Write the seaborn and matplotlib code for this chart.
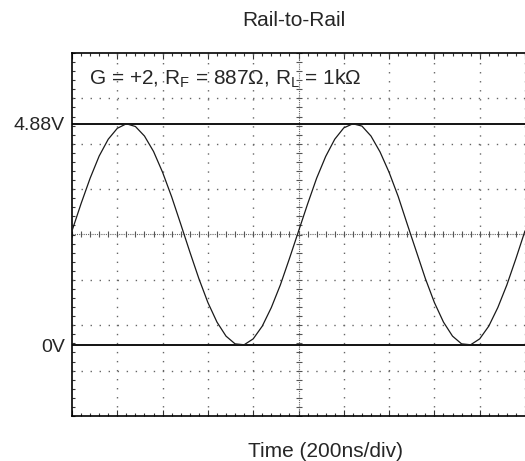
import numpy as np
import seaborn as sns
import matplotlib.pyplot as plt
from matplotlib.ticker import FixedLocator

# scope trace: 1 V/div, 200 ns/div, one sample every 40 ns
sample_step_ns = 40
volts = [2.52, 3.12, 3.68, 4.17, 4.54, 4.78, 4.88, 4.82, 4.61, 4.27, 3.81, 3.27, 2.67,
         2.06, 1.47, 0.94, 0.51, 0.20, 0.03, 0.01, 0.14, 0.42, 0.83, 1.33, 1.91,
         2.51, 3.11, 3.68, 4.16, 4.54, 4.79, 4.88, 4.83, 4.61, 4.26, 3.81, 3.28, 2.67,
         2.07, 1.47, 0.94, 0.51, 0.20, 0.03, 0.01, 0.14, 0.42, 0.83, 1.33, 1.91, 2.52]
time_ns = np.arange(len(volts)) * sample_step_ns

rail_levels = [0.0, 4.88]
rail_labels = ['0V', '4.88V']
center_v = 2.44
title = 'Rail-to-Rail'
x_label = 'Time (200ns/div)'
note = r'G = +2, R$_\mathregular{F}$ = 887Ω, R$_\mathregular{L}$ = 1kΩ'

sns.set_style('white')
plt.rcParams['font.family'] = ['Liberation Sans', 'DejaVu Sans']
plt.rcParams['mathtext.fontset'] = 'custom'
plt.rcParams['mathtext.rm'] = 'Liberation Sans'

fig = plt.figure(figsize=(5.25, 4.61), dpi=100)
ax = fig.add_axes([72 / 525, 45 / 461, 453 / 525, 363 / 461])
ax.set_xlim(0, 2000)
ax.set_ylim(center_v - 4, center_v + 4)

# dotted graticule
dot = (0, (1, 5.5))
for x in np.arange(200, 2001, 200):
    if x == 1000:
        continue
    ax.axvline(x, color='#666666', lw=1, ls=dot, clip_on=False, zorder=1)
for k in [-3, -2, -1, 1, 2, 3]:
    ax.axhline(center_v + k, color='#666666', lw=1, ls=dot, zorder=1)

# centre crosshair with fine ticks
ax.axvline(1000, color='#666666', lw=0.8, ls=(0, (1, 1)), zorder=1)
ax.axhline(center_v, color='#666666', lw=0.8, ls=(0, (1, 1)), zorder=1)
xt = np.arange(0, 2001, 40)
yt = np.arange(center_v - 4, center_v + 4.01, 0.2)
ax.plot(xt, np.full(len(xt), center_v), ls='none', marker='|', ms=5, mew=0.8, color='#555555', zorder=1)
ax.plot(np.full(len(yt), 1000), yt, ls='none', marker='_', ms=5, mew=0.8, color='#555555', zorder=1)

# rails
for lv in rail_levels:
    ax.axhline(lv, color='black', lw=1.3, zorder=2)

sns.lineplot(x=time_ns, y=volts, color='#1a1a1a', lw=0.9, ax=ax, zorder=3)

# frame ticks
ax.set_xticks(np.arange(0, 2001, 200))
ax.set_xticklabels([])
ax.xaxis.set_minor_locator(FixedLocator(xt))
ax.tick_params(axis='x', which='both', direction='in', top=True, bottom=True, color='#333333')
ax.tick_params(axis='x', which='major', length=4, width=0.8)
ax.tick_params(axis='x', which='minor', length=2.5, width=0.8)
ax.set_yticks(rail_levels)
ax.set_yticklabels(rail_labels, fontsize=14)
ax.yaxis.set_minor_locator(FixedLocator(yt))
ax.tick_params(axis='y', which='major', length=0, pad=5)
ax.tick_params(axis='y', which='minor', direction='in', left=True, length=2.5, width=0.8, color='#333333')

for side in ['left', 'bottom', 'top']:
    ax.spines[side].set_color('black')
    ax.spines[side].set_linewidth(1.2)
ax.spines['right'].set_visible(False)
ax.set_xlabel('')
ax.set_ylabel('')

fig.text(293.5 / 525, 1 - 20 / 461, title, ha='center', va='center', fontsize=15)
fig.text(325.5 / 525, 1 - 451 / 461, x_label, ha='center', va='center', fontsize=15)
fig.text(89 / 525, 1 - 79 / 461, note, ha='left', va='center', fontsize=15)

fig.savefig('out.png', dpi=100)
